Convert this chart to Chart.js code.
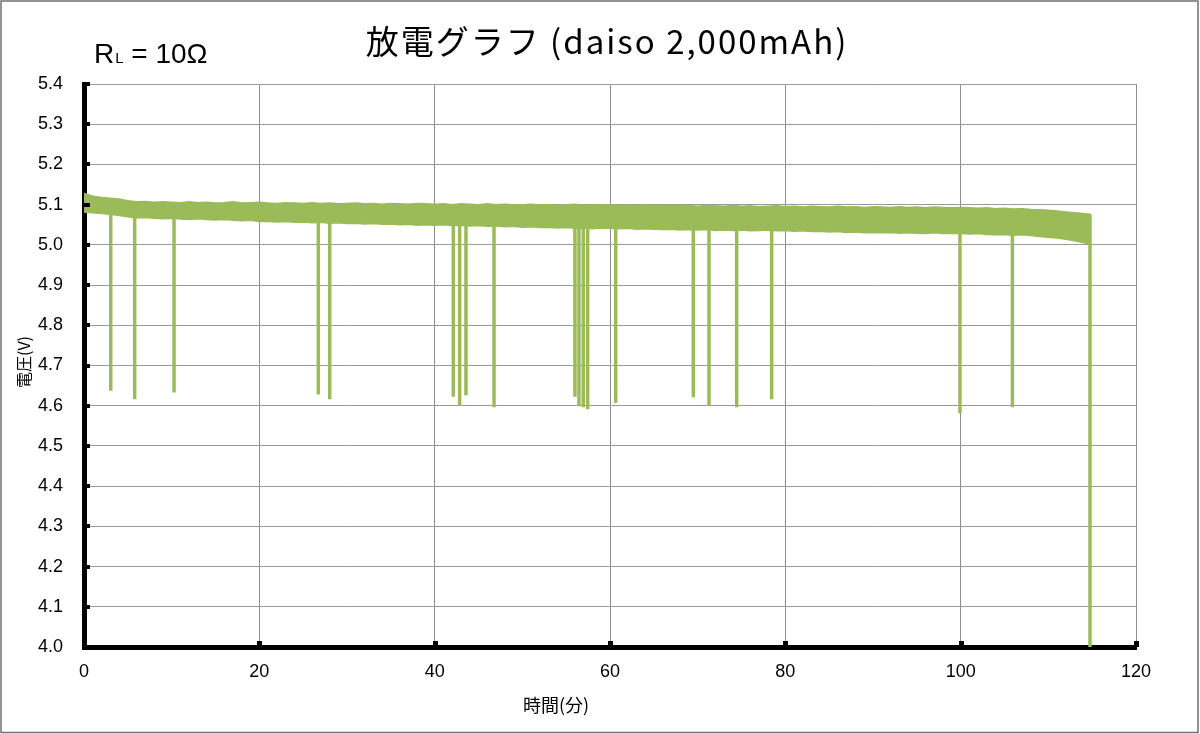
<!DOCTYPE html>
<html>
<head>
<meta charset="utf-8">
<script src="https://cdn.jsdelivr.net/npm/chart.js@4/dist/chart.umd.min.js"></script>
<style>
  html, body { margin: 0; padding: 0; background: #fff; }
  #wrap { width: 1200px; height: 734px; }
</style>
</head>
<body>
<div id="wrap"><canvas id="discharge"></canvas></div>
<script>
// time (min) sampled along the noisy band
const minutes = [0,1,2,3,4,5,6,7,8,9,10,11,12,13,14,15,16,17,18,19,
  20,21,22,23,24,25,26,27,28,29,30,31,32,33,34,35,36,37,38,39,
  40,41,42,43,44,45,46,47,48,49,50,51,52,53,54,55,56,57,58,59,
  60,61,62,63,64,65,66,67,68,69,70,71,72,73,74,75,76,77,78,79,
  80,81,82,83,84,85,86,87,88,89,90,91,92,93,94,95,96,97,98,99,
  100,101,102,103,104,105,106,107,108,109,110,111,112,113,114,114.8];

// upper edge of the noise band (V)
const bandTop = [5.128,5.121,5.118,5.116,5.114,5.110,5.107,5.108,5.106,5.107,
  5.106,5.105,5.107,5.105,5.106,5.104,5.105,5.107,5.104,5.105,
  5.106,5.104,5.103,5.105,5.104,5.103,5.105,5.103,5.104,5.102,
  5.103,5.104,5.102,5.103,5.101,5.103,5.102,5.101,5.103,5.102,
  5.101,5.102,5.100,5.102,5.101,5.100,5.102,5.100,5.101,5.099,
  5.100,5.101,5.099,5.100,5.098,5.100,5.101,5.099,5.098,5.100,
  5.099,5.098,5.099,5.097,5.099,5.098,5.097,5.099,5.097,5.098,
  5.096,5.098,5.097,5.096,5.098,5.096,5.097,5.095,5.096,5.097,
  5.095,5.096,5.094,5.096,5.095,5.094,5.096,5.094,5.095,5.093,
  5.095,5.094,5.093,5.095,5.093,5.094,5.092,5.094,5.093,5.092,
  5.093,5.092,5.091,5.092,5.090,5.091,5.089,5.090,5.088,5.087,
  5.086,5.084,5.082,5.080,5.078,5.076];

// lower edge of the noise band (V)
const bandBottom = [5.082,5.080,5.078,5.076,5.073,5.070,5.067,5.068,5.066,5.065,
  5.066,5.064,5.063,5.065,5.063,5.062,5.063,5.061,5.060,5.061,
  5.058,5.059,5.057,5.058,5.056,5.057,5.055,5.056,5.054,5.055,
  5.053,5.054,5.052,5.053,5.051,5.052,5.050,5.051,5.049,5.050,
  5.049,5.050,5.048,5.049,5.047,5.048,5.046,5.047,5.045,5.046,
  5.044,5.045,5.043,5.044,5.042,5.043,5.041,5.042,5.040,5.042,
  5.041,5.040,5.041,5.039,5.040,5.039,5.038,5.039,5.037,5.038,
  5.037,5.038,5.036,5.037,5.036,5.037,5.035,5.036,5.037,5.035,
  5.036,5.034,5.035,5.033,5.034,5.032,5.033,5.031,5.032,5.030,
  5.031,5.030,5.031,5.029,5.030,5.029,5.028,5.030,5.028,5.029,
  5.028,5.027,5.028,5.026,5.025,5.026,5.024,5.025,5.023,5.021,
  5.019,5.017,5.014,5.010,5.005,5.002];

// voltage dips: time (min) and lowest reading (V)
const dipTimes = [3.05,5.78,10.27,26.73,28.03,42.13,42.85,43.57,46.77,
  56.0,56.46,56.95,57.45,60.65,69.5,71.29,74.45,78.44,99.92,105.9,114.75];
const dipLows = [4.637,4.616,4.633,4.628,4.616,4.622,4.600,4.626,4.596,
  4.622,4.600,4.596,4.591,4.607,4.621,4.600,4.596,4.616,4.581,4.596,4.0];

const xTicks = [0,20,40,60,80,100,120];

const green = '#9BBB59';
const fontLatin = '"Liberation Sans", Arial, sans-serif';
const fontJp = '"Noto Sans CJK JP", "Noto Sans", sans-serif';

let topPoints = minutes.map((t, i) => ({x: t, y: bandTop[i]}));
let bottomPoints = minutes.map((t, i) => ({x: t, y: bandBottom[i]}));
let dipPoints = [];
dipTimes.forEach((t, i) => {
    let k = Math.min(Math.round(t), bandTop.length - 1);
    dipPoints.push({x: t, y: bandTop[k]});
    dipPoints.push({x: t, y: dipLows[i]});
    dipPoints.push({x: t, y: null});
});

// frame, titles and inward tick marks
const decorPlugin = {
    id: 'decor',
    beforeDraw(chart) {
        const ctx = chart.ctx;
        ctx.save();
        ctx.fillStyle = '#fff';
        ctx.fillRect(0, 0, chart.width, chart.height);
        ctx.restore();
    },
    afterDraw(chart) {
        const ctx = chart.ctx;
        const xs = chart.scales.x, ys = chart.scales.y;
        const area = chart.chartArea;
        ctx.save();
        ctx.fillStyle = '#000';
        ys.ticks.forEach(tk => {
            let py = ys.getPixelForValue(tk.value);
            ctx.fillRect(area.left, Math.round(py) - 2, 6, 4);
        });
        xs.ticks.forEach(tk => {
            let px = xs.getPixelForValue(tk.value);
            ctx.fillRect(Math.round(px) - 2, area.bottom - 6, 5, 6);
        });

        ctx.strokeStyle = '#707070';
        ctx.lineWidth = 1.5;
        ctx.strokeRect(1, 1, chart.width - 3, chart.height - 2.5);

        ctx.fillStyle = '#000';
        ctx.textBaseline = 'alphabetic';
        ctx.textAlign = 'center';
        ctx.font = '33px ' + fontJp;
        ctx.letterSpacing = '2px';
        ctx.fillText('放電グラフ (daiso 2,000mAh)', 607, 54);
        ctx.letterSpacing = '0px';

        ctx.textAlign = 'left';
        ctx.font = '28px ' + fontLatin;
        ctx.fillText('R', 94, 63);
        let w = ctx.measureText('R').width;
        ctx.font = '15px ' + fontLatin;
        ctx.fillText('L', 94 + w + 1, 63);
        let w2 = ctx.measureText('L').width;
        ctx.font = '28px ' + fontLatin;
        ctx.fillText(' = 10Ω', 94 + w + 1 + w2, 63);

        ctx.textAlign = 'center';
        ctx.textBaseline = 'middle';
        ctx.font = '18px ' + fontJp;
        ctx.fillText('時間(分)', 556, 705);

        ctx.translate(24, 362);
        ctx.rotate(-Math.PI / 2);
        ctx.font = '16px ' + fontJp;
        ctx.fillText('電圧(V)', 0, 0);
        ctx.restore();
    }
};

let discharge_param = {
    type: 'line',
    data: {
        datasets: [{
            label: 'band top',
            data: topPoints,
            borderColor: green,
            backgroundColor: green,
            borderWidth: 1.5,
            pointRadius: 0,
            tension: 0,
            fill: '+1',
        }, {
            label: 'band bottom',
            data: bottomPoints,
            borderColor: green,
            borderWidth: 1.5,
            pointRadius: 0,
            tension: 0,
            fill: false,
        }, {
            label: 'dips',
            data: dipPoints,
            borderColor: green,
            borderWidth: 3.5,
            pointRadius: 0,
            tension: 0,
            spanGaps: false,
            fill: false,
        }]
    },
    options: {
        responsive: true,
        maintainAspectRatio: false,
        animation: false,
        layout: { padding: { left: 0, top: 84, right: 64, bottom: 0 } },
        plugins: {
            legend: { display: false },
            tooltip: { enabled: false },
            title: { display: false },
        },
        scales: {
            x: {
                type: 'linear',
                min: 0,
                max: 120,
                afterBuildTicks: (scale) => { scale.ticks = xTicks.map(v => ({value: v})); },
                afterFit: (scale) => { scale.height = 87; },
                grid: { color: '#8c8c8c', lineWidth: 1, drawTicks: false },
                border: { color: '#000', width: 5 },
                ticks: {
                    padding: 14,
                    color: '#000',
                    font: { family: fontLatin, size: 18 },
                    maxRotation: 0,
                },
            },
            y: {
                min: 4.0,
                max: 5.4,
                afterFit: (scale) => { scale.width = 84; },
                grid: { color: '#9a9a9a', lineWidth: 1, drawTicks: false },
                border: { color: '#000', width: 5 },
                ticks: {
                    stepSize: 0.1,
                    padding: 21,
                    color: '#000',
                    font: { family: fontLatin, size: 18 },
                    callback: (v) => v.toFixed(1),
                },
            },
        },
    },
    plugins: [decorPlugin],
};

let discharge = new Chart(document.getElementById('discharge'), discharge_param);
</script>
</body>
</html>
